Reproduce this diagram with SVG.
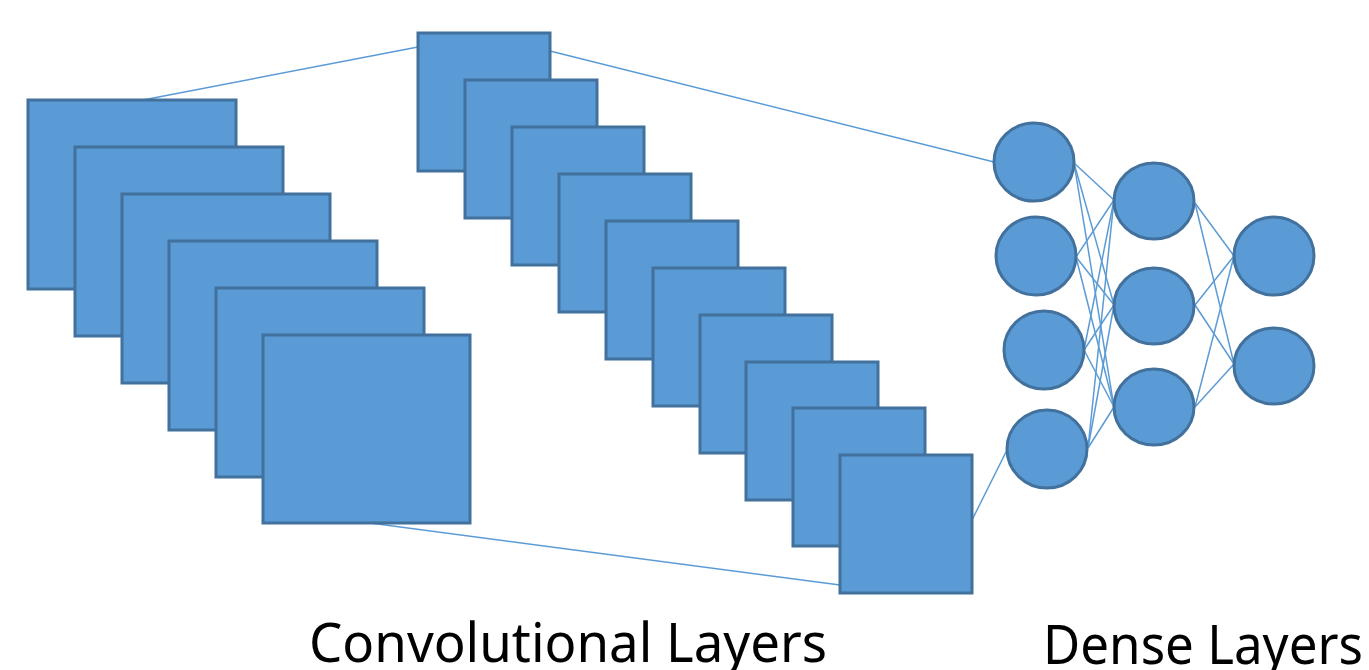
<svg xmlns="http://www.w3.org/2000/svg" width="1369" height="670" viewBox="0 0 1369 670">
<style>
.sq{fill:#5B9BD5;stroke:#41719C;stroke-width:3}
.nd{fill:#5B9BD5;stroke:#41719C;stroke-width:3}
.ln{stroke:#5B9BD5;stroke-width:1.5;fill:none}
.lbl{font-family:"Noto Sans","Open Sans","DejaVu Sans",sans-serif;font-size:54px;fill:#000}
</style>
<rect width="1369" height="670" fill="#fff"/>
<g id="connectors">
<line class="ln" x1="143" y1="100" x2="418" y2="47"/>
<line class="ln" x1="550" y1="51" x2="994" y2="162"/>
<line class="ln" x1="370" y1="523" x2="840" y2="585"/>
<line class="ln" x1="972" y1="520" x2="1007" y2="450"/>
</g>
<g id="left-stack">
<rect id="L1" class="sq" x="28" y="100" width="208" height="189"/>
<rect id="L2" class="sq" x="75" y="147" width="208" height="189"/>
<rect id="L3" class="sq" x="122" y="194" width="208" height="189"/>
<rect id="L4" class="sq" x="169" y="241" width="208" height="189"/>
<rect id="L5" class="sq" x="216" y="288" width="208" height="189"/>
<rect id="L6" class="sq" x="263" y="335" width="207" height="188"/>
</g>
<g id="mid-stack">
<rect id="M1" class="sq" x="418" y="33" width="132" height="138"/>
<rect id="M2" class="sq" x="465" y="80" width="132" height="138"/>
<rect id="M3" class="sq" x="512" y="127" width="132" height="138"/>
<rect id="M4" class="sq" x="559" y="174" width="132" height="138"/>
<rect id="M5" class="sq" x="606" y="221" width="132" height="138"/>
<rect id="M6" class="sq" x="653" y="268" width="132" height="138"/>
<rect id="M7" class="sq" x="700" y="315" width="132" height="138"/>
<rect id="M8" class="sq" x="746" y="362" width="132" height="138"/>
<rect id="M9" class="sq" x="793" y="408" width="132" height="138"/>
<rect id="M10" class="sq" x="840" y="455" width="132" height="138"/>
</g>
<g id="dense-connectors">
<line class="ln" x1="1074" y1="163" x2="1114" y2="200"/>
<line class="ln" x1="1074" y1="163" x2="1114" y2="305"/>
<line class="ln" x1="1074" y1="163" x2="1114" y2="407"/>
<line class="ln" x1="1076" y1="257" x2="1114" y2="200"/>
<line class="ln" x1="1076" y1="257" x2="1114" y2="305"/>
<line class="ln" x1="1076" y1="257" x2="1114" y2="407"/>
<line class="ln" x1="1084" y1="350" x2="1114" y2="200"/>
<line class="ln" x1="1084" y1="350" x2="1114" y2="305"/>
<line class="ln" x1="1084" y1="350" x2="1114" y2="407"/>
<line class="ln" x1="1088" y1="448" x2="1114" y2="200"/>
<line class="ln" x1="1088" y1="448" x2="1114" y2="305"/>
<line class="ln" x1="1088" y1="448" x2="1114" y2="407"/>
<line class="ln" x1="1195" y1="203" x2="1234" y2="256"/>
<line class="ln" x1="1195" y1="203" x2="1234" y2="364"/>
<line class="ln" x1="1195" y1="305" x2="1234" y2="256"/>
<line class="ln" x1="1195" y1="305" x2="1234" y2="364"/>
<line class="ln" x1="1195" y1="407" x2="1234" y2="256"/>
<line class="ln" x1="1195" y1="407" x2="1234" y2="364"/>
</g>
<g id="dense1">
<ellipse id="A1" class="nd" cx="1034" cy="162" rx="40" ry="39"/>
<ellipse id="A2" class="nd" cx="1036" cy="256" rx="40" ry="39"/>
<ellipse id="A3" class="nd" cx="1044" cy="350" rx="40" ry="39"/>
<ellipse id="A4" class="nd" cx="1047" cy="449" rx="40" ry="39"/>
</g>
<g id="dense2">
<ellipse id="B1" class="nd" cx="1154" cy="201" rx="40" ry="38"/>
<ellipse id="B2" class="nd" cx="1154" cy="306" rx="40" ry="38"/>
<ellipse id="B3" class="nd" cx="1154" cy="407" rx="40" ry="38"/>
</g>
<g id="dense3">
<ellipse id="C1" class="nd" cx="1274" cy="256" rx="40" ry="39"/>
<ellipse id="C2" class="nd" cx="1274" cy="366" rx="40" ry="38"/>
</g>
<g id="labels">
<text class="lbl" x="309" y="662" textLength="518" lengthAdjust="spacingAndGlyphs">Convolutional Layers</text>
<text class="lbl" x="1043" y="664" textLength="320" lengthAdjust="spacingAndGlyphs">Dense Layers</text>
</g>
</svg>
